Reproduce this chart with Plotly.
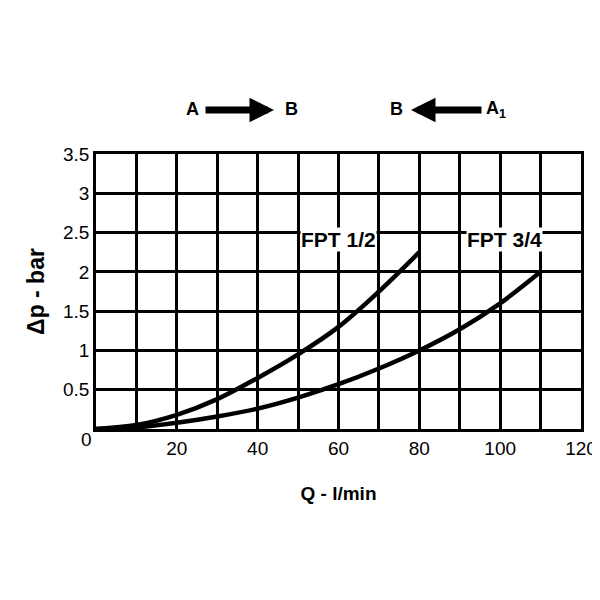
import plotly.graph_objects as go

fpt12_q = [0, 10, 20, 30, 40, 50, 60, 70, 80]
fpt12_dp = [0, 0.05, 0.18, 0.38, 0.65, 0.95, 1.3, 1.75, 2.25]
fpt34_q = [0, 10, 20, 30, 40, 50, 60, 70, 80, 90, 100, 110]
fpt34_dp = [0, 0.02, 0.08, 0.16, 0.26, 0.4, 0.57, 0.77, 1.0, 1.27, 1.6, 2.0]

fig = go.Figure()
for q, d in [(fpt12_q, fpt12_dp), (fpt34_q, fpt34_dp)]:
    fig.add_trace(go.Scatter(x=q, y=d, mode="lines", line=dict(color="black", width=4.5, shape="spline"), showlegend=False))

F = dict(family="Arial", size=19, color="black")
def px(x): return (x - 95) / 485
def py(y): return (428 - y) / 275
ann = [
    dict(x=60, y=2.25, text="<b>FPT 1/2</b>", xanchor="center", yanchor="bottom"),
    dict(x=101, y=2.25, text="<b>FPT 3/4</b>", xanchor="center", yanchor="bottom"),
]
for a in ann:
    a.update(xref="x", yref="y", showarrow=False, bgcolor="white", borderpad=0,
             font=dict(family="Arial", size=21, color="black"))
top = [
    dict(x=px(183), text="<b>A</b>"), dict(x=px(290), text="<b>B</b>"),
    dict(x=px(395), text="<b>B</b>"), dict(x=px(507), text="<b>A<sub>1</sub></b>"),
]
for a in top:
    a.update(xref="paper", yref="paper", y=py(110), yanchor="middle", yshift=2, showarrow=False,
             font=dict(family="Arial", size=18, color="black"))
arrows = [
    dict(x=px(273), ax=px(203), y=py(109), ay=py(109)),
    dict(x=px(410), ax=px(482), y=py(109), ay=py(109)),
]
for a in arrows:
    a.update(xref="x domain", yref="y domain", axref="x domain", ayref="y domain", text="", showarrow=True,
             arrowhead=2, arrowsize=0.7, arrowwidth=7, arrowcolor="black")
fig.update_layout(
    width=600, height=600, paper_bgcolor="white", plot_bgcolor="white",
    margin=dict(l=88, r=27, t=146, b=179),
    annotations=ann + top + arrows,
    font=F,
    xaxis=dict(range=[0, 120], tickvals=[20, 40, 60, 80, 100, 120], showgrid=True, gridcolor="black", gridwidth=2.5,
               minor=dict(dtick=10, showgrid=True, gridcolor="black", gridwidth=2.5),
               showline=True, linecolor="black", linewidth=2.5, mirror=True, zeroline=False, ticks="", automargin=False,
               title=dict(text="<b>Q - l/min</b>", font=dict(family="Arial", size=19), standoff=30)),
    yaxis=dict(range=[0, 3.5], showgrid=True, gridcolor="black", gridwidth=2.5, automargin=False,
               tickvals=[0.5, 1, 1.5, 2, 2.5, 3, 3.5], ticktext=["0.5", "1", "1.5", "2", "2.5", "3", "3.5"],
               showline=True, linecolor="black", linewidth=2.5, mirror=True, zeroline=False, ticks="",
               title=dict(text="<b>Δp - bar</b>", font=dict(family="Arial", size=23), standoff=12)),
)
fig.add_annotation(x=0, y=0, xref="x", yref="y", text="0", showarrow=False, xanchor="right", yanchor="top",
                   xshift=-2, yshift=2, font=F)
fig.write_html("out.html")
